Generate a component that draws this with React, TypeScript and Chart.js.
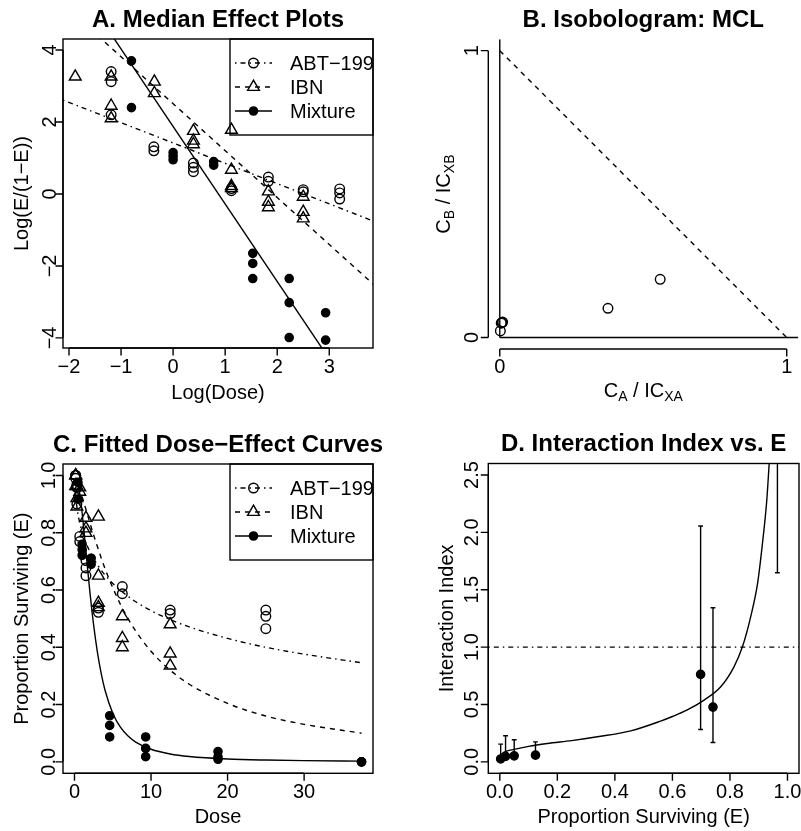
import React, { useEffect, useRef } from "react";
import { Chart, registerables } from "chart.js";

Chart.register(...registerables);

const FONT = '"Liberation Sans", Arial, Helvetica, sans-serif';
const M = "\u2212";
const LW = 1.4;
const TICK = 7.5;
const DOTDASH = [1.5, 4, 5, 4];
const DASHED = [5, 5];
const OPEN_R = 4.8;
const FILL_R = 4.1;
const TRI_R = 6.8;

// ---------- Panel A: median effect plots (log dose vs log(E/(1-E))) ----------
const abtLogDose = [-1.19, -1.19, -1.19, -0.37, -0.37, 0.39, 0.39, 0.39, 1.12, 1.12, 1.83, 1.83, 2.5, 2.5, 3.2, 3.2, 3.2];
const abtLogit = [3.4, 3.12, 2.2, 1.31, 1.2, 0.86, 0.74, 0.62, 0.15, 0.09, 0.47, 0.35, 0.12, 0.06, 0.14, 0.03, -0.14];
const ibnLogDose = [-1.88, -1.19, -1.19, -1.19, -0.36, -0.36, 0.39, 0.39, 0.39, 1.12, 1.12, 1.12, 1.12, 1.83, 1.83, 1.83, 2.5, 2.5, 2.5];
const ibnLogit = [3.26, 3.26, 2.45, 2.1, 3.12, 2.8, 1.75, 1.48, 1.38, 1.78, 0.67, 0.22, 0.16, 0.07, -0.22, -0.37, -0.08, -0.5, -0.68];
const mixLogDose = [-0.8, -0.8, 0.0, 0.0, 0.0, 0.78, 0.78, 1.53, 1.53, 1.53, 2.23, 2.23, 2.23, 2.93, 2.93];
const mixLogit = [3.7, 2.4, 1.15, 1.05, 0.95, 0.9, 0.8, -1.65, -1.93, -2.35, -2.35, -3.02, -3.99, -3.3, -4.06];
const abtFitX = [-2.115, 3.84];
const abtFitY = [2.61, -0.75];
const ibnFitX = [-1.45, 3.84];
const ibnFitY = [4.4, -2.5];
const mixFitX = [-1.2, 2.9];
const mixFitY = [4.46, -4.37];
const aXTicks = [-2, -1, 0, 1, 2, 3];
const aXLabels = [M + "2", M + "1", "0", "1", "2", "3"];
const aYTicks = [-4, -2, 0, 2, 4];
const aYLabels = [M + "4", M + "2", "0", "2", "4"];

// ---------- Panel B: isobologram ----------
const isoCA = [0.002, 0.005, 0.008, 0.01, 0.377, 0.559];
const isoCB = [0.023, 0.05, 0.052, 0.054, 0.102, 0.203];
const additiveX = [0, 1];
const additiveY = [1, 0];
const isoVertX = [0, 0];
const isoVertY = [0, 1.04];
const isoHorzX = [0, 1.04];
const isoHorzY = [0, 0];
const bTicks = [0, 1];
const bLabels = ["0", "1"];

// ---------- Panel C: fitted dose-effect curves ----------
const abtDose = [0.156, 0.156, 0.156, 0.3125, 0.3125, 0.3125, 0.69, 0.69, 1.5, 1.5, 1.5, 3.125, 3.125, 6.25, 6.25, 12.5, 12.5, 25, 25, 25];
const abtE = [1.0, 1.0, 0.99, 0.968, 0.958, 0.9, 0.787, 0.769, 0.703, 0.677, 0.65, 0.537, 0.522, 0.612, 0.587, 0.53, 0.518, 0.53, 0.508, 0.465];
const ibnDose = [0.156, 0.156, 0.156, 0.3125, 0.3125, 0.3125, 0.69, 0.69, 1.5, 1.5, 1.5, 3.125, 3.125, 3.125, 3.125, 6.25, 6.25, 6.25, 12.5, 12.5, 12.5];
const ibnE = [1.0, 1.0, 0.963, 0.963, 0.921, 0.891, 0.958, 0.943, 0.852, 0.815, 0.799, 0.856, 0.65, 0.555, 0.54, 0.508, 0.432, 0.4, 0.48, 0.378, 0.336];
const mixDose = [0.45, 0.45, 1.0, 1.0, 1.0, 2.18, 2.18, 4.6, 4.6, 4.6, 9.3, 9.3, 9.3, 18.75, 18.75, 18.75, 37.5, 37.5, 37.5];
const mixE = [0.976, 0.917, 0.76, 0.741, 0.721, 0.711, 0.69, 0.161, 0.127, 0.087, 0.087, 0.047, 0.018, 0.036, 0.017, 0.009, 0.0, 0.0, 0.0];
const curveDose = [0.156, 0.3125, 0.5, 0.75, 1, 1.5, 2, 2.5, 3, 4, 5, 6, 7, 8, 10, 12.5, 15, 20, 25, 30, 37.5];
const abtCurveE = [0.922, 0.89, 0.858, 0.828, 0.804, 0.765, 0.735, 0.71, 0.688, 0.652, 0.623, 0.599, 0.578, 0.559, 0.528, 0.497, 0.471, 0.431, 0.4, 0.376, 0.346];
const ibnCurveE = [0.993, 0.984, 0.969, 0.948, 0.926, 0.881, 0.836, 0.792, 0.751, 0.674, 0.608, 0.55, 0.5, 0.457, 0.386, 0.32, 0.271, 0.204, 0.16, 0.131, 0.1];
const mixCurveDose = [0.45, 0.75, 1, 1.25, 1.5, 1.75, 2, 2.5, 3, 3.5, 4, 5, 6, 7, 8, 10, 12.5, 15, 20, 25, 30, 37.5];
const mixCurveE = [0.974, 0.925, 0.869, 0.804, 0.734, 0.664, 0.597, 0.478, 0.382, 0.307, 0.249, 0.17, 0.121, 0.09, 0.069, 0.044, 0.0275, 0.0187, 0.0101, 0.0063, 0.0043, 0.0026];
const cXTicks = [0, 10, 20, 30];
const cXLabels = ["0", "10", "20", "30"];
const cYTicks = [0, 0.2, 0.4, 0.6, 0.8, 1.0];
const cYLabels = ["0.0", "0.2", "0.4", "0.6", "0.8", "1.0"];

// ---------- Panel D: interaction index vs E ----------
const dE = [0.003, 0.02, 0.05, 0.124, 0.698, 0.741, 0.965];
const dII = [0.025, 0.048, 0.052, 0.058, 0.762, 0.477, 3.2];
const dLo = [0.01, 0.03, 0.035, 0.04, 0.282, 0.169, 1.648];
const dHi = [0.154, 0.227, 0.192, 0.174, 2.055, 1.343, 5.0];
const dCurveE = [0.003, 0.014, 0.026, 0.05, 0.1, 0.165, 0.25, 0.339, 0.455, 0.559, 0.6, 0.65, 0.71, 0.768, 0.814, 0.843, 0.872, 0.896, 0.913, 0.928, 0.94];
const dCurveII = [0.06, 0.082, 0.096, 0.108, 0.135, 0.16, 0.185, 0.218, 0.27, 0.355, 0.395, 0.45, 0.538, 0.654, 0.828, 1.0, 1.264, 1.555, 1.904, 2.28, 2.75];
const refX = [-0.04, 1.04];
const refY = [1, 1];
const dXTicks = [0, 0.2, 0.4, 0.6, 0.8, 1.0];
const dXLabels = ["0.0", "0.2", "0.4", "0.6", "0.8", "1.0"];
const dYTicks = [0, 0.5, 1.0, 1.5, 2.0, 2.5];
const dYLabels = ["0.0", "0.5", "1.0", "1.5", "2.0", "2.5"];

// ---------- helpers ----------
type Kind = "open" | "tri" | "fill";
type Part = { t: string; sub?: boolean };
interface AxisDef {
  ticks: number[];
  labels: string[];
  labelGap: number;
  title: Part[];
  titleGap: number;
}
interface LegendItem {
  label: string;
  dash: number[];
  kind: Kind;
}
interface PanelDef {
  left: number;
  top: number;
  width: number;
  height: number;
  plot: [number, number, number, number];
  xMin: number;
  xMax: number;
  yMin: number;
  yMax: number;
  title: string;
  titleBaseline: number;
  box: boolean;
  xAxis: AxisDef;
  yAxis: AxisDef;
  legend?: LegendItem[];
  datasets: any[];
}

const pts = (xs: number[], ys: number[]) => xs.map((x, i) => ({ x, y: ys[i] }));

const pointSet = (label: string, xs: number[], ys: number[], kind: Kind) => ({
  label,
  data: pts(xs, ys),
  showLine: false,
  pointStyle: kind === "tri" ? "triangle" : "circle",
  pointRadius: kind === "tri" ? TRI_R : kind === "open" ? OPEN_R : FILL_R,
  pointBorderWidth: LW,
  pointBorderColor: "#000",
  pointBackgroundColor: kind === "fill" ? "#000" : "rgba(0,0,0,0)",
});

const lineSet = (label: string, xs: number[], ys: number[], dash: number[], smooth = false) => ({
  label,
  data: pts(xs, ys),
  showLine: true,
  pointRadius: 0,
  borderColor: "#000",
  borderWidth: LW,
  borderDash: dash,
  cubicInterpolationMode: smooth ? "monotone" : "default",
  capBezierPoints: false,
  fill: false,
});

function drawMarker(ctx: CanvasRenderingContext2D, kind: Kind, x: number, y: number) {
  ctx.save();
  ctx.setLineDash([]);
  ctx.lineWidth = LW;
  ctx.strokeStyle = "#000";
  ctx.fillStyle = "#000";
  ctx.beginPath();
  if (kind === "tri") {
    const r = TRI_R;
    ctx.moveTo(x, y - r);
    ctx.lineTo(x + 0.866 * r, y + 0.5 * r);
    ctx.lineTo(x - 0.866 * r, y + 0.5 * r);
    ctx.closePath();
    ctx.stroke();
  } else if (kind === "open") {
    ctx.arc(x, y, OPEN_R, 0, Math.PI * 2);
    ctx.stroke();
  } else {
    ctx.arc(x, y, FILL_R, 0, Math.PI * 2);
    ctx.fill();
    ctx.stroke();
  }
  ctx.restore();
}

function drawRich(ctx: CanvasRenderingContext2D, parts: Part[], cx: number, base: number, rotated: boolean) {
  const mainFont = `20px ${FONT}`;
  const subFont = `14px ${FONT}`;
  let w = 0;
  const widths = parts.map((p) => {
    ctx.font = p.sub ? subFont : mainFont;
    const m = ctx.measureText(p.t).width;
    w += m;
    return m;
  });
  ctx.save();
  ctx.textAlign = "left";
  ctx.textBaseline = "alphabetic";
  if (rotated) {
    ctx.translate(base, cx);
    ctx.rotate(-Math.PI / 2);
  } else {
    ctx.translate(cx, base);
  }
  let x = -w / 2;
  parts.forEach((p, i) => {
    ctx.font = p.sub ? subFont : mainFont;
    ctx.fillText(p.t, x, p.sub ? 4 : 0);
    x += widths[i];
  });
  ctx.restore();
}

function rPlugin(def: PanelDef) {
  return {
    id: "rstyle",
    afterDraw(chart: any) {
      const ctx: CanvasRenderingContext2D = chart.ctx;
      const a = chart.chartArea;
      const xs = chart.scales.x;
      const ys = chart.scales.y;
      ctx.save();
      ctx.strokeStyle = "#000";
      ctx.fillStyle = "#000";
      ctx.lineWidth = LW;
      ctx.setLineDash([]);
      if (def.box) ctx.strokeRect(a.left, a.top, a.right - a.left, a.bottom - a.top);

      // x axis
      const xt = def.xAxis.ticks.map((v) => xs.getPixelForValue(v));
      ctx.beginPath();
      ctx.moveTo(xt[0], a.bottom);
      ctx.lineTo(xt[xt.length - 1], a.bottom);
      xt.forEach((px) => {
        ctx.moveTo(px, a.bottom);
        ctx.lineTo(px, a.bottom + TICK);
      });
      ctx.stroke();
      ctx.font = `20px ${FONT}`;
      ctx.textAlign = "center";
      ctx.textBaseline = "alphabetic";
      xt.forEach((px, i) => ctx.fillText(def.xAxis.labels[i], px, a.bottom + def.xAxis.labelGap));
      drawRich(ctx, def.xAxis.title, (a.left + a.right) / 2, a.bottom + def.xAxis.titleGap, false);

      // y axis
      const yt = def.yAxis.ticks.map((v) => ys.getPixelForValue(v));
      ctx.beginPath();
      ctx.moveTo(a.left, yt[0]);
      ctx.lineTo(a.left, yt[yt.length - 1]);
      yt.forEach((py) => {
        ctx.moveTo(a.left, py);
        ctx.lineTo(a.left - TICK, py);
      });
      ctx.stroke();
      ctx.font = `20px ${FONT}`;
      yt.forEach((py, i) => {
        ctx.save();
        ctx.translate(a.left - def.yAxis.labelGap, py);
        ctx.rotate(-Math.PI / 2);
        ctx.textAlign = "center";
        ctx.textBaseline = "alphabetic";
        ctx.fillText(def.yAxis.labels[i], 0, 0);
        ctx.restore();
      });
      drawRich(ctx, def.yAxis.title, (a.top + a.bottom) / 2, a.left - def.yAxis.titleGap, true);

      // main title
      ctx.font = `bold 24px ${FONT}`;
      ctx.textAlign = "center";
      ctx.textBaseline = "alphabetic";
      ctx.fillText(def.title, (a.left + a.right) / 2, def.titleBaseline);

      // legend
      if (def.legend) {
        const lx = a.right - 143;
        const top = a.top;
        ctx.strokeRect(lx, top, a.right - lx, 96);
        def.legend.forEach((it, i) => {
          const yy = top + 24 + i * 24;
          ctx.save();
          ctx.setLineDash(it.dash);
          ctx.beginPath();
          ctx.moveTo(lx + 5, yy);
          ctx.lineTo(lx + 42, yy);
          ctx.stroke();
          ctx.restore();
          drawMarker(ctx, it.kind, lx + 23.5, yy);
          ctx.font = `20px ${FONT}`;
          ctx.textAlign = "left";
          ctx.textBaseline = "middle";
          ctx.fillText(it.label, lx + 60, yy + 1);
        });
      }
      ctx.restore();
    },
  };
}

function Panel({ def }: { def: PanelDef }) {
  const ref = useRef<HTMLCanvasElement>(null);
  useEffect(() => {
    const [l, t, r, b] = def.plot;
    const chart = new Chart(ref.current as HTMLCanvasElement, {
      type: "scatter",
      data: { datasets: def.datasets },
      options: {
        animation: false,
        responsive: false,
        devicePixelRatio: 1,
        events: [],
        layout: { autoPadding: false, padding: { left: l, top: t, right: def.width - r, bottom: def.height - b } },
        scales: {
          x: { type: "linear", min: def.xMin, max: def.xMax, display: false },
          y: { type: "linear", min: def.yMin, max: def.yMax, display: false },
        },
        plugins: { legend: { display: false }, tooltip: { enabled: false }, title: { display: false } },
      } as any,
      plugins: [rPlugin(def) as any],
    });
    return () => chart.destroy();
  }, []);
  return (
    <canvas
      ref={ref}
      width={def.width}
      height={def.height}
      style={{ position: "absolute", left: def.left, top: def.top, width: def.width, height: def.height }}
    />
  );
}

const legendItems: LegendItem[] = [
  { label: "ABT" + M + "199", dash: DOTDASH, kind: "open" },
  { label: "IBN", dash: DASHED, kind: "tri" },
  { label: "Mixture", dash: [], kind: "fill" },
];

const panelA: PanelDef = {
  left: 0,
  top: 0,
  width: 400,
  height: 415,
  plot: [63, 39, 373, 348],
  xMin: -2.115,
  xMax: 3.84,
  yMin: -4.28,
  yMax: 4.306,
  title: "A. Median Effect Plots",
  titleBaseline: 26.5,
  box: true,
  xAxis: { ticks: aXTicks, labels: aXLabels, labelGap: 25, title: [{ t: "Log(Dose)" }], titleGap: 50.5 },
  yAxis: { ticks: aYTicks, labels: aYLabels, labelGap: 7.5, title: [{ t: "Log(E/(1" + M + "E))" }], titleGap: 35 },
  legend: legendItems,
  datasets: [
    pointSet("ABT-199", abtLogDose, abtLogit, "open"),
    pointSet("IBN", ibnLogDose, ibnLogit, "tri"),
    pointSet("Mixture", mixLogDose, mixLogit, "fill"),
    lineSet("ABT-199 fit", abtFitX, abtFitY, DOTDASH),
    lineSet("IBN fit", ibnFitX, ibnFitY, DASHED),
    lineSet("Mixture fit", mixFitX, mixFitY, []),
  ],
};

const panelB: PanelDef = {
  left: 400,
  top: 0,
  width: 401,
  height: 415,
  plot: [88.3, 39.2, 398.2, 349],
  xMin: -0.04,
  xMax: 1.04,
  yMin: -0.04,
  yMax: 1.04,
  title: "B. Isobologram: MCL",
  titleBaseline: 26.5,
  box: false,
  xAxis: {
    ticks: bTicks,
    labels: bLabels,
    labelGap: 24,
    title: [{ t: "C" }, { t: "A", sub: true }, { t: " / IC" }, { t: "XA", sub: true }],
    titleGap: 48,
  },
  yAxis: {
    ticks: bTicks,
    labels: bLabels,
    labelGap: 10,
    title: [{ t: "C" }, { t: "B", sub: true }, { t: " / IC" }, { t: "XB", sub: true }],
    titleGap: 38,
  },
  datasets: [
    pointSet("Isobologram", isoCA, isoCB, "open"),
    lineSet("Additivity", additiveX, additiveY, DASHED),
    lineSet("x=0", isoVertX, isoVertY, []),
    lineSet("y=0", isoHorzX, isoHorzY, []),
  ],
};

const panelC: PanelDef = {
  left: 0,
  top: 415,
  width: 400,
  height: 416,
  plot: [63, 49, 373, 358.3],
  xMin: -1.5,
  xMax: 39,
  yMin: -0.04,
  yMax: 1.04,
  title: "C. Fitted Dose" + M + "Effect Curves",
  titleBaseline: 36.5,
  box: true,
  xAxis: { ticks: cXTicks, labels: cXLabels, labelGap: 24.5, title: [{ t: "Dose" }], titleGap: 50 },
  yAxis: { ticks: cYTicks, labels: cYLabels, labelGap: 8, title: [{ t: "Proportion Surviving (E)" }], titleGap: 35 },
  legend: legendItems,
  datasets: [
    pointSet("ABT-199", abtDose, abtE, "open"),
    pointSet("IBN", ibnDose, ibnE, "tri"),
    pointSet("Mixture", mixDose, mixE, "fill"),
    lineSet("ABT-199 fit", curveDose, abtCurveE, DOTDASH, true),
    lineSet("IBN fit", curveDose, ibnCurveE, DASHED, true),
    lineSet("Mixture fit", mixCurveDose, mixCurveE, [], true),
  ],
};

const panelD: PanelDef = {
  left: 400,
  top: 415,
  width: 401,
  height: 416,
  plot: [88.3, 48.5, 399, 358.3],
  xMin: -0.04,
  xMax: 1.04,
  yMin: -0.1,
  yMax: 2.6,
  title: "D. Interaction Index vs. E",
  titleBaseline: 36,
  box: true,
  xAxis: { ticks: dXTicks, labels: dXLabels, labelGap: 24.5, title: [{ t: "Proportion Surviving (E)" }], titleGap: 50 },
  yAxis: { ticks: dYTicks, labels: dYLabels, labelGap: 10, title: [{ t: "Interaction Index" }], titleGap: 35 },
  datasets: [
    pointSet("Interaction index", dE, dII, "fill"),
    lineSet("Fitted index", dCurveE, dCurveII, [], true),
    lineSet("Additivity", refX, refY, DOTDASH),
    ...dE.map((e, i) => ({
      label: "CI " + i,
      data: [
        { x: e, y: dLo[i] },
        { x: e, y: dHi[i] },
      ],
      showLine: true,
      borderColor: "#000",
      borderWidth: LW,
      pointStyle: "line",
      pointRadius: 2.4,
      pointBorderWidth: LW,
      pointBorderColor: "#000",
    })),
  ],
};

export default function App() {
  return (
    <div style={{ position: "absolute", left: 0, top: 0, width: 801, height: 831, background: "#fff" }}>
      <Panel def={panelA} />
      <Panel def={panelB} />
      <Panel def={panelC} />
      <Panel def={panelD} />
    </div>
  );
}
